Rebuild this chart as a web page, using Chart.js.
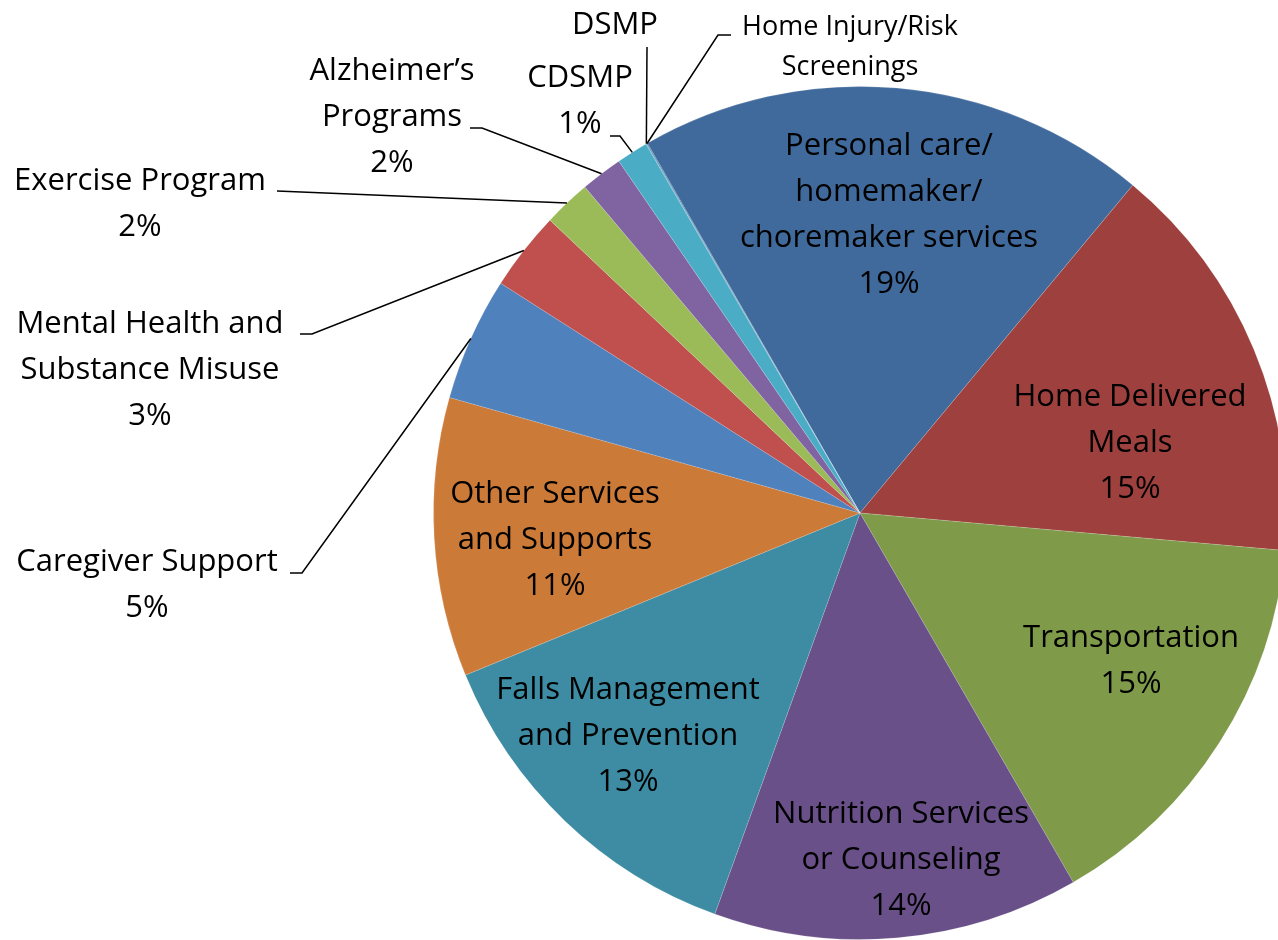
<!DOCTYPE html>
<html>
<head>
<meta charset="utf-8">
<script src="https://cdn.jsdelivr.net/npm/chart.js@4.4.1/dist/chart.umd.min.js"></script>
<style>
    html, body { margin: 0; padding: 0; background: #fff; overflow: hidden; }
    #wrap { position: relative; width: 1278px; height: 940px; overflow: hidden; }
    #pieChart { position: absolute; left: 0; top: 0; }
</style>
</head>
<body>
<div id="wrap">
    <canvas id="pieChart" width="1300" height="940"></canvas>
</div>
<script>
// Service categories, clockwise from the top-left edge of the first slice
const categories = [
    'Personal care/ homemaker/ choremaker services',
    'Home Delivered Meals',
    'Transportation',
    'Nutrition Services or Counseling',
    'Falls Management and Prevention',
    'Other Services and Supports',
    'Caregiver Support',
    'Mental Health and Substance Misuse',
    'Exercise Program',
    'Alzheimer\u2019s Programs',
    'CDSMP',
    'DSMP',
    'Home Injury/Risk Screenings'
];

// Share of services (percent)
const shares = [19.4, 15.4, 15.3, 13.9, 13.3, 10.6, 4.7, 3.0, 1.8, 1.6, 1.2, 0.03, 0.03];

// Wrapped label text for each slice
const labelLines = [
    ['Personal care/', 'homemaker/', 'choremaker services'],
    ['Home Delivered', 'Meals'],
    ['Transportation'],
    ['Nutrition Services', 'or Counseling'],
    ['Falls Management', 'and Prevention'],
    ['Other Services', 'and Supports'],
    ['Caregiver Support'],
    ['Mental Health and', 'Substance Misuse'],
    ['Exercise Program'],
    ['Alzheimer\u2019s', 'Programs'],
    ['CDSMP'],
    ['DSMP'],
    ['Home Injury/Risk', 'Screenings']
];

// Whether the percentage is printed under the name
const showPercent = [true, true, true, true, true, true, true, true, true, true, true, false, false];

const sliceColors = [
    '#416a9c', '#9e413e', '#7f9b4a', '#6a5088', '#3d8ca3', '#cc7a38',
    '#4f81bd', '#c0504d', '#9bbb59', '#8064a2', '#4bacc6', '#4bacc6', '#416a9c'
];

// Label placement (block centre) and leader elbows, in canvas pixels
const labelLayout = [
    { x: 889, y: 215 },
    { x: 1130, y: 443 },
    { x: 1131, y: 661 },
    { x: 901, y: 860 },
    { x: 628, y: 736 },
    { x: 555, y: 540 },
    { x: 147, y: 585, leader: [[290, 573], [302, 573]] },
    { x: 150, y: 370, leader: [[300, 334], [312, 334]] },
    { x: 140, y: 204, leader: [[277, 191]] },
    { x: 392, y: 117, leader: [[470, 128], [482, 128]] },
    { x: 580, y: 101, leader: [[610, 136], [620, 136]] },
    { x: 615, y: 25, leader: [[647, 47]] },
    { x: 850, y: 47, leader: [[731, 35], [718, 35]], small: true }
];

const sliceLabels = {
    id: 'sliceLabels',
    afterDatasetsDraw(chart) {
        const ctx = chart.ctx;
        const meta = chart.getDatasetMeta(0);
        const total = shares.reduce((a, b) => a + b, 0);

        ctx.save();
        ctx.textAlign = 'center';
        ctx.textBaseline = 'middle';
        ctx.fillStyle = '#000';
        ctx.strokeStyle = '#000';
        ctx.lineWidth = 1.5;

        meta.data.forEach((arc, i) => {
            const pos = labelLayout[i];
            const lines = labelLines[i].slice();
            if (showPercent[i]) {
                lines.push(Math.round(shares[i] / total * 100) + '%');
            }

            // Leader line from the label to the middle of the slice's rim
            if (pos.leader) {
                const mid = (arc.startAngle + arc.endAngle) / 2;
                const rimX = arc.x + Math.cos(mid) * arc.outerRadius;
                const rimY = arc.y + Math.sin(mid) * arc.outerRadius;
                ctx.beginPath();
                ctx.moveTo(pos.leader[0][0], pos.leader[0][1]);
                pos.leader.slice(1).forEach(p => ctx.lineTo(p[0], p[1]));
                ctx.lineTo(rimX, rimY);
                ctx.stroke();
            }

            const size = pos.small ? 27 : 31;
            const lineHeight = pos.small ? 40 : 46;
            ctx.font = size + 'px "Open Sans"';
            const top = pos.y - (lines.length - 1) * lineHeight / 2;
            lines.forEach((text, k) => {
                ctx.fillText(text, pos.x, top + k * lineHeight);
            });
        });
        ctx.restore();
    }
};

document.addEventListener('DOMContentLoaded', function() {
    const ctx = document.getElementById('pieChart').getContext('2d');
    new Chart(ctx, {
        type: 'pie',
        data: {
            labels: categories,
            datasets: [{
                data: shares,
                backgroundColor: sliceColors,
                borderColor: 'rgba(255, 255, 255, 0.15)',
                borderWidth: 1
            }]
        },
        options: {
            responsive: false,
            animation: false,
            rotation: -29.9,
            layout: {
                padding: { left: 433, right: 13, top: 86, bottom: 0 }
            },
            plugins: {
                legend: { display: false },
                tooltip: { enabled: false }
            }
        },
        plugins: [sliceLabels]
    });
});
</script>
</body>
</html>
